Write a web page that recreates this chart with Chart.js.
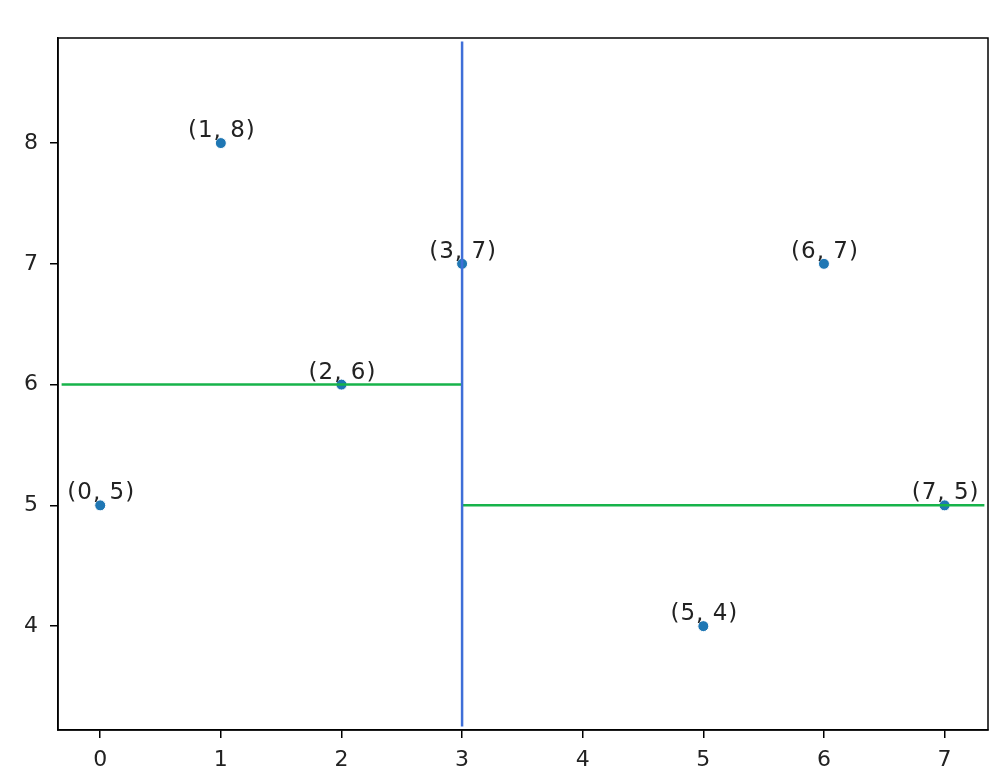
<!DOCTYPE html>
<html>
<head>
<meta charset="utf-8">
<script src="https://cdn.jsdelivr.net/npm/chart.js@4"></script>
<style>
  html, body { margin: 0; padding: 0; background: #fff; }
  #wrap { width: 1005px; height: 778px; }
</style>
</head>
<body>
<div id="wrap"><canvas id="myChart" width="1005" height="778"></canvas></div>
<script>
// points of the kd-tree
const xs = [0, 1, 2, 3, 5, 6, 7];
const ys = [5, 8, 6, 7, 4, 7, 5];

// split lines: [x1, y1, x2, y2]
const blueSplit = [3, 3.17, 3, 8.84];
const greenSplits = [
  [-0.32, 6, 3, 6],
  [3, 5, 7.33, 5]
];

const xTicks = [0, 1, 2, 3, 4, 5, 6, 7];
const yTicks = [4, 5, 6, 7, 8];
const xRange = [-0.35, 7.36];
const yRange = [3.14, 8.87];

const points = xs.map((x, i) => ({ x: x, y: ys[i] }));
const seg = (s) => [{ x: s[0], y: s[1] }, { x: s[2], y: s[3] }];

const frame = {
  id: "frame",
  afterDraw(chart) {
    const a = chart.chartArea;
    const ctx = chart.ctx;
    ctx.save();
    ctx.strokeStyle = "#000";
    ctx.lineWidth = 1.5;
    ctx.strokeRect(a.left, a.top, a.right - a.left, a.bottom - a.top);
    ctx.restore();
  }
};

const pointLabels = {
  id: "pointLabels",
  afterDatasetsDraw(chart) {
    const ctx = chart.ctx;
    const sx = chart.scales.x, sy = chart.scales.y;
    ctx.save();
    ctx.font = "23px 'DejaVu Sans'";
    ctx.letterSpacing = "1px";
    ctx.fillStyle = "#222";
    ctx.textAlign = "center";
    ctx.textBaseline = "alphabetic";
    xs.forEach((x, i) => {
      ctx.fillText(`(${x}, ${ys[i]})`, sx.getPixelForValue(x) + 1, sy.getPixelForValue(ys[i]) - 6);
    });
    ctx.restore();
  }
};

const lineSet = (data, color) => ({
  type: "line",
  data: data,
  borderColor: color,
  borderWidth: 2.5,
  pointRadius: 0,
  showLine: true,
  fill: false
});

new Chart(document.getElementById("myChart"), {
  type: "scatter",
  data: {
    datasets: [
      lineSet(seg(blueSplit), "#3f6fd8"),
      lineSet(seg(greenSplits[0]), "#17b34a"),
      lineSet(seg(greenSplits[1]), "#17b34a"),
      {
        data: points,
        backgroundColor: "#1f77b4",
        borderColor: "#ffffff",
        borderWidth: 1,
        pointRadius: 5.5
      }
    ]
  },
  options: {
    responsive: false,
    animation: false,
    layout: { padding: { left: 0, top: 38, right: 17, bottom: 0 } },
    plugins: { legend: { display: false }, tooltip: { enabled: false } },
    scales: {
      x: {
        type: "linear",
        min: xRange[0],
        max: xRange[1],
        afterBuildTicks: (s) => { s.ticks = xTicks.map(v => ({ value: v })); },
        afterFit: (s) => { s.height = 48; },
        grid: { drawOnChartArea: false, drawTicks: true, tickLength: 8, color: "#000", lineWidth: 1.5 },
        border: { display: true, color: "#000", width: 1.5 },
        ticks: { color: "#222", font: { family: "DejaVu Sans", size: 22 }, padding: 9, maxRotation: 0 }
      },
      y: {
        type: "linear",
        min: yRange[0],
        max: yRange[1],
        afterBuildTicks: (s) => { s.ticks = yTicks.map(v => ({ value: v })); },
        afterFit: (s) => { s.width = 58; },
        grid: { drawOnChartArea: false, drawTicks: true, tickLength: 8, color: "#000", lineWidth: 1.5 },
        border: { display: true, color: "#000", width: 1.5 },
        ticks: { color: "#222", font: { family: "DejaVu Sans", size: 22 }, padding: 12 }
      }
    }
  },
  plugins: [frame, pointLabels]
});
</script>
</body>
</html>
